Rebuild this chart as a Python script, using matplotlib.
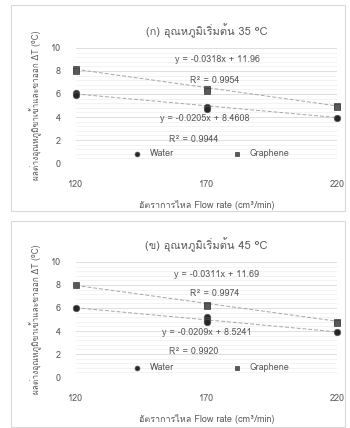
import matplotlib
matplotlib.use("Agg")
import matplotlib.pyplot as plt
import numpy as np
from matplotlib import font_manager
from matplotlib.patches import Rectangle

# data
titles = ["(ก) อุณหภูมิเริ่มต้น 35 °C", "(ข) อุณหภูมิเริ่มต้น 45 °C"]
xlabel = "อัตราการไหล Flow rate (cm³/min)"
ylabel = "ผลต่างอุณหภูมิขาเข้าและขาออก ΔT (°C)"
xticks = [120, 170, 220]
yticks = [0, 2, 4, 6, 8, 10]

water_x = [[120, 120, 170, 170, 220], [120, 170, 170, 170, 220]]
water_y = [[6.1, 5.9, 4.9, 4.7, 3.9], [6.0, 5.2, 5.0, 4.8, 3.9]]
graph_x = [[120, 120, 170, 170, 220, 220], [120, 170, 170, 220, 220]]
graph_y = [[8.2, 8.0, 6.4, 6.3, 5.0, 4.9], [8.0, 6.3, 6.2, 4.8, 4.7]]

# trendline coefficients (slope, intercept) and R^2
water_fit = [(-0.0205, 8.4608), (-0.0209, 8.5241)]
graph_fit = [(-0.0318, 11.96), (-0.0311, 11.69)]
water_r2 = ["0.9944", "0.9920"]
graph_r2 = ["0.9954", "0.9974"]
water_eq = ["y = -0.0205x + 8.4608", "y = -0.0209x + 8.5241"]
graph_eq = ["y = -0.0318x + 11.96", "y = -0.0311x + 11.69"]


def thai_font():
    # look for any installed font that has Thai glyphs
    try:
        from fontTools.ttLib import TTFont
    except ImportError:
        return None
    for f in font_manager.fontManager.ttflist:
        try:
            cmap = TTFont(f.fname, fontNumber=0, lazy=True).getBestCmap()
        except Exception:
            continue
        if cmap and 0x0E2D in cmap:
            return f.name
    return None


tf = thai_font()
fams = ([tf] if tf else []) + ["DejaVu Sans"]
plt.rcParams['font.family'] = fams

grey = "#595959"
fig = plt.figure(figsize=(3.5, 4.28), dpi=100)

# panel borders
for y0 in [0.505, 0.0]:
    fig.add_artist(Rectangle((0.03, y0 + 0.003), 0.955, 0.48, transform=fig.transFigure,
                             fill=False, edgecolor="#d9d9d9", lw=0.8))

axes_pos = [[0.217, 0.619, 0.746, 0.269], [0.217, 0.119, 0.746, 0.269]]
eq_pos = [[(174, 8.96), (173, 7.2), (169.5, 3.83), (165, 2.09)],
          [(174, 8.87), (173, 7.3), (170, 3.9), (165, 2.2)]]

for i in range(2):
    ax = fig.add_axes(axes_pos[i])
    ax.set_xlim(120, 220)
    ax.set_ylim(0, 10)
    ax.set_xticks(xticks)
    ax.set_yticks(yticks)
    ax.set_yticks(np.arange(0, 10.01, 0.4), minor=True)
    ax.grid(axis='y', which='major', color="#d9d9d9", lw=0.6)
    ax.grid(axis='y', which='minor', color="#efefef", lw=0.5)
    ax.set_axisbelow(True)
    for s in ax.spines.values():
        s.set_visible(False)
    ax.tick_params(axis='both', which='both', length=0, labelsize=6.5, colors=grey)
    ax.tick_params(axis='x', pad=12)
    ax.tick_params(axis='y', pad=11)

    xs = np.array([120, 220])
    m, b = graph_fit[i]
    ax.plot(xs, m * xs + b, ls=(0, (4, 2)), color="#a6a6a6", lw=0.7)
    m, b = water_fit[i]
    ax.plot(xs, m * xs + b, ls=(0, (4, 2)), color="#a6a6a6", lw=0.7)

    ax.scatter(water_x[i], water_y[i], marker='o', s=22, color="#262626",
               edgecolor="#595959", lw=0.5, label="Water", zorder=3, clip_on=False)
    ax.scatter(graph_x[i], graph_y[i], marker='s', s=20, color="#595959",
               edgecolor="#404040", lw=0.5, label="Graphene", zorder=3, clip_on=False)

    p = eq_pos[i]
    ax.text(*p[0], graph_eq[i], fontsize=6.5, color=grey, ha='center', va='center')
    ax.text(*p[1], "R² = " + graph_r2[i], fontsize=6.5, color=grey, ha='center', va='center')
    ax.text(*p[2], water_eq[i], fontsize=6.5, color=grey, ha='center', va='center')
    ax.text(*p[3], "R² = " + water_r2[i], fontsize=6.5, color=grey, ha='center', va='center')

    ax.legend(loc='lower center', bbox_to_anchor=(0.51, -0.03), ncol=2, frameon=False,
              fontsize=6.5, labelcolor=grey, columnspacing=6, handletextpad=0.4,
              markerscale=0.75)

    ax.set_title(titles[i], fontsize=8, color=grey, pad=9)
    ax.set_xlabel(xlabel, fontsize=6.5, color=grey, labelpad=8)
    ax.set_ylabel(ylabel, fontsize=6, color=grey, labelpad=6)

fig.savefig("out.png", dpi=100)
